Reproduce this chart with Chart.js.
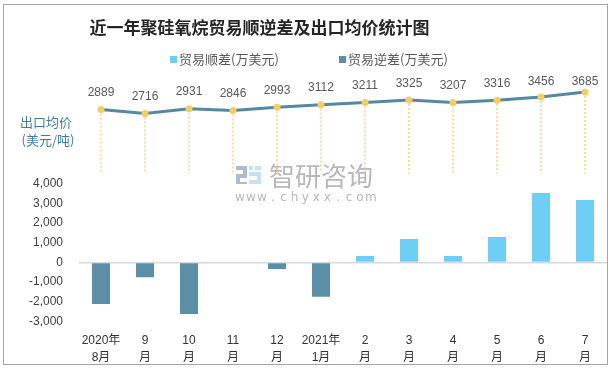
<!DOCTYPE html>
<html><head><meta charset="utf-8">
<script src="https://cdn.jsdelivr.net/npm/chart.js@4.4.1/dist/chart.umd.min.js"></script>
<style>
html,body{margin:0;padding:0;background:#fff;}
#wrap{position:relative;width:613px;height:370px;overflow:hidden;font-family:"Noto Sans CJK SC","Noto Sans",sans-serif;}
#c{position:absolute;left:0;top:0;}
#frame{position:absolute;left:3px;top:4px;width:605px;height:361px;box-sizing:border-box;border:1px solid #a6a6a6;pointer-events:none;}
#title{position:absolute;left:0;top:14px;width:519px;text-align:center;font-weight:bold;font-size:17px;line-height:26px;color:#262626;white-space:nowrap;}
.lg{position:absolute;top:50px;height:18px;line-height:18px;font-size:13px;color:#595959;white-space:nowrap;}
.lg i{position:absolute;left:0;top:6px;width:7px;height:7px;}
.lg span{position:absolute;left:9px;top:0;}
</style></head>
<body>
<div id="wrap">
<canvas id="c" width="613" height="370"></canvas>
<div id="title">近一年聚硅氧烷贸易顺逆差及出口均价统计图</div>
<div id="legend"></div>
<div id="frame"></div>
</div>
<script>
const categories = [['2020年','8月'],['9','月'],['10','月'],['11','月'],['12','月'],['2021年','1月'],['2','月'],['3','月'],['4','月'],['5','月'],['6','月'],['7','月']];
const surplus = [null,null,null,null,null,null,320,1190,320,1290,3530,3170];
const deficit = [-2120,-750,-2630,null,-340,-1750,null,null,null,null,null,null];
const exportPrice = [2889,2716,2931,2846,2993,3112,3211,3325,3207,3316,3456,3685];
const seriesNames = ['贸易顺差(万美元)','贸易逆差(万美元)','出口均价'];
const seriesColors = ['#6dcff6','#5b8fa8','#5489a3'];
const barTickValues = [-3000,-2000,-1000,0,1000,2000,3000,4000];
const priceAxisLabel = ['出口均价','(美元/吨)'];
const watermarkText = ['智研咨询','www.chyxx.com'];

// HTML legend built from the series names
const legendPos = [170, 339];
const lg = document.getElementById('legend');
[0,1].forEach(i=>{
  const d=document.createElement('div'); d.className='lg'; d.style.left=legendPos[i]+'px';
  d.innerHTML='<i style="background:'+seriesColors[i]+'"></i><span>'+seriesNames[i]+'</span>';
  lg.appendChild(d);
});

const decor = {
  id:'decor',
  beforeDatasetsDraw(chart){
    const ctx=chart.ctx;
    // watermark
    ctx.save();
    ctx.fillStyle='#aebcd0';
    ctx.fillRect(236,166,11,4); ctx.fillRect(243,166,4,10); ctx.fillRect(236,174,11,4); ctx.fillRect(236,174,4,10); ctx.fillRect(236,182,11,2);
    ctx.fillStyle='#c3e2f6';
    ctx.fillRect(249,166,4,4); ctx.fillRect(255,166,6,4); ctx.fillRect(249,172,12,4); ctx.fillRect(257,172,4,12); ctx.fillRect(249,180,12,4);
    ctx.fillStyle='#b8b8b8';
    ctx.font='26px "Noto Sans CJK SC"'; ctx.textBaseline='middle'; ctx.textAlign='left';
    ctx.fillText(watermarkText[0],269,176);
    ctx.font='12px "DejaVu Sans"'; ctx.textAlign='center';
    const w=watermarkText[1];
    for(let i=0;i<w.length;i++) ctx.fillText(w[i],240+i*10.9,198);
    ctx.restore();
    // dotted drop lines
    const yL=chart.scales.yLine, meta=chart.getDatasetMeta(2), base=yL.getPixelForValue(0);
    ctx.save(); ctx.setLineDash([2,2]); ctx.strokeStyle='#f7d282'; ctx.lineWidth=1.5;
    meta.data.forEach(p=>{ctx.beginPath(); ctx.moveTo(p.x,p.y); ctx.lineTo(p.x,base); ctx.stroke();});
    ctx.restore();
  },
  afterDatasetsDraw(chart){
    const ctx=chart.ctx, meta=chart.getDatasetMeta(2), yL=chart.scales.yLine;
    ctx.save();
    ctx.font='12px "Liberation Sans", Arial'; ctx.fillStyle='#595959'; ctx.textAlign='center'; ctx.textBaseline='middle';
    meta.data.forEach((p,i)=>{ ctx.fillText(String(exportPrice[i]), p.x, Math.max(p.y-16.5, chart.chartArea.top-3.5)); });
    ctx.font='13px "Noto Sans CJK SC"'; ctx.fillStyle='#3f7fa6';
    const mid=(yL.top+yL.bottom)/2-3;
    ctx.fillText(priceAxisLabel[0],46,mid-9);
    ctx.fillText(priceAxisLabel[1],48,mid+9);
    ctx.restore();
  }
};

new Chart(document.getElementById('c'),{
  data:{
    labels:categories,
    datasets:[
      {type:'bar',label:seriesNames[0],data:surplus,backgroundColor:seriesColors[0],yAxisID:'yBar',grouped:false,barPercentage:0.41,categoryPercentage:1,order:2},
      {type:'bar',label:seriesNames[1],data:deficit,backgroundColor:seriesColors[1],yAxisID:'yBar',grouped:false,barPercentage:0.41,categoryPercentage:1,order:3},
      {type:'line',label:seriesNames[2],data:exportPrice,yAxisID:'yLine',borderColor:seriesColors[2],borderWidth:3,pointRadius:3.5,pointBackgroundColor:'#f8cd60',pointBorderWidth:0,tension:0,order:1,clip:false}
    ]
  },
  options:{
    responsive:false,animation:false,
    layout:{padding:{top:85,left:0,right:6,bottom:0}},
    plugins:{legend:{display:false},title:{display:false},tooltip:{enabled:false}},
    scales:{
      x:{grid:{display:false},border:{display:false},
         ticks:{padding:3,color:'#333',font:{family:'"Liberation Sans","Noto Sans CJK SC"',size:12,lineHeight:'17px'},maxRotation:0,autoSkip:false},
         afterFit:s=>{s.height=48.6;}},
      yBar:{type:'linear',position:'left',stack:'v',stackWeight:137.7,min:-3000,max:4000,
         afterBuildTicks:s=>{s.ticks=barTickValues.map(v=>({value:v}));},
         grid:{drawTicks:false,color:c=>c.tick&&c.tick.value===0?'#d9d9d9':'rgba(0,0,0,0)',lineWidth:1.5},
         border:{display:false},
         ticks:{padding:16,autoSkip:false,color:'#404040',font:{family:'"Liberation Sans", Arial',size:12}},
         afterFit:s=>{s.width=79;}},
      yLine:{type:'linear',position:'left',stack:'v',stackWeight:98.7,min:-460,max:4000,display:false}
    }
  },
  plugins:[decor]
});
</script>
</body></html>
